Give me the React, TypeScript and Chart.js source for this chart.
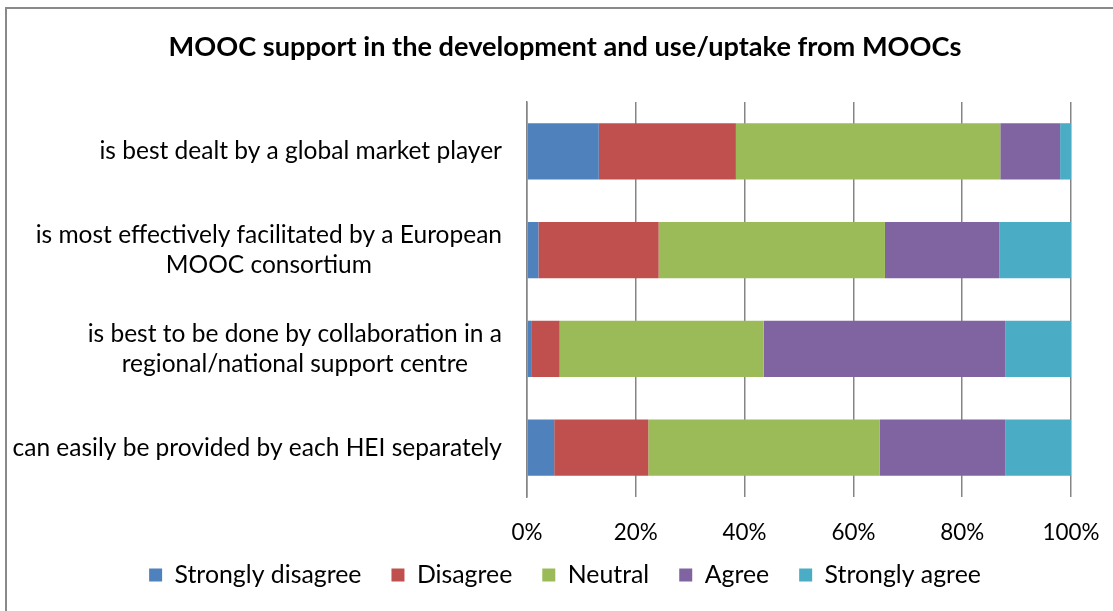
import React, { useEffect, useRef } from 'react';
import { Chart, registerables } from 'chart.js';

Chart.register(...registerables);

const titleText = 'MOOC support in the development and use/uptake from MOOCs';
const categories: string[][] = [
  ['is best dealt by a global market player'],
  ['is most effectively facilitated by a European', 'MOOC consortium'],
  ['is best to be done by collaboration in a', 'regional/national support centre'],
  ['can easily be provided by each HEI separately'],
];
const seriesNames = ['Strongly disagree', 'Disagree', 'Neutral', 'Agree', 'Strongly agree'];
const stronglyDisagree = [13.2, 2.1, 0.9, 5.0];
const disagree = [25.2, 22.1, 5.1, 17.3];
const neutral = [48.6, 41.6, 37.5, 42.5];
const agree = [11.0, 21.0, 44.4, 23.1];
const stronglyAgree = [2.0, 13.2, 12.1, 12.1];
const xTickValues = [0, 20, 40, 60, 80, 100];
const xTickLabels = ['0%', '20%', '40%', '60%', '80%', '100%'];

const seriesValues = [stronglyDisagree, disagree, neutral, agree, stronglyAgree];
const seriesColors = ['#4F81BD', '#C0504D', '#9BBB59', '#8064A2', '#4BACC6'];

const FAMILY = 'Lato';
const W = 1113;
const H = 611;

function fitSize(text: string, weight: string, target: number): number {
  const c = document.createElement('canvas').getContext('2d')!;
  c.font = `${weight} 100px ${FAMILY}`;
  return (100 * target) / c.measureText(text).width;
}

export default function App() {
  const ref = useRef<HTMLCanvasElement | null>(null);

  useEffect(() => {
    if (!ref.current) return;
    const Tf = fitSize(titleText, 'bold', 793);
    const Yf = fitSize(categories[3][0], 'normal', 490);
    const Xf = fitSize(xTickLabels[0], 'normal', 31);
    const Lf = fitSize(seriesNames[0], 'normal', 187);

    const plotLeft = 527;
    const plotRight = 1071;
    const plotTop = 102;
    const plotBottom = 497;
    const padLeft = 59;
    const legendPad = 30;
    const legendCenter = 575;
    const xAxisBottom = 556;
    const xAxisHeight = xAxisBottom - plotBottom;
    const legendHeight = Lf + legendPad + 10;
    const padBottom = H - (xAxisBottom + legendHeight);
    const legendDesiredTop = legendCenter - legendPad - Lf / 2;
    const titleCenter = 47.5;
    const titlePadTop = titleCenter - 0.6 * Tf;
    const titlePadBottom = plotTop - titlePadTop - 1.2 * Tf;
    const xLabelCenter = 533;
    const xPad = xLabelCenter - plotBottom - 0.6 * Xf;

    const yLabelPlugin = {
      id: 'yLabels',
      afterLayout(chart: any) {
        const lg = chart.legend;
        if (lg) {
          const shift = lg.top - legendDesiredTop;
          lg.top -= shift;
          lg.bottom -= shift;
        }
      },
      afterDraw(chart: any) {
        const ctx = chart.ctx;
        const yScale = chart.scales.y;
        const right = chart.chartArea.left - 25;
        const lineGap = 30.5;
        ctx.save();
        ctx.font = `normal ${Yf}px ${FAMILY}`;
        ctx.fillStyle = '#000';
        ctx.textAlign = 'center';
        ctx.textBaseline = 'middle';
        categories.forEach((lines, i) => {
          const cy = yScale.getPixelForValue(i);
          const widths = lines.map((l) => ctx.measureText(l).width);
          const bw = Math.max(...widths);
          const cx = right - bw / 2;
          const y0 = cy - ((lines.length - 1) * lineGap) / 2;
          lines.forEach((l, j) => ctx.fillText(l, cx, y0 + j * lineGap));
        });
        ctx.restore();
      },
    };

    const chart = new Chart(ref.current, {
      type: 'bar',
      data: {
        labels: categories.map((c) => c.join(' ')),
        datasets: seriesNames.map((name, i) => ({
          label: name,
          data: seriesValues[i],
          backgroundColor: seriesColors[i],
          borderWidth: 0,
          barPercentage: 0.57,
          categoryPercentage: 1,
        })),
      },
      options: {
        indexAxis: 'y',
        responsive: false,
        animation: false,
        layout: { padding: { left: padLeft, right: W - plotRight, top: 0, bottom: padBottom } },
        plugins: {
          title: {
            display: true,
            text: titleText,
            color: '#000',
            font: { family: FAMILY, size: Tf, weight: 'bold' },
            padding: { top: titlePadTop, bottom: titlePadBottom },
          },
          legend: {
            position: 'bottom',
            labels: {
              color: '#000',
              font: { family: FAMILY, size: Lf },
              boxWidth: 13,
              boxHeight: 13,
              padding: legendPad,
            },
          },
          tooltip: { enabled: false },
        },
        scales: {
          x: {
            stacked: true,
            min: 0,
            max: 100,
            afterBuildTicks: (scale: any) => {
              scale.ticks = xTickValues.map((v) => ({ value: v }));
            },
            afterFit: (scale: any) => {
              scale.height = xAxisHeight;
              scale.paddingLeft = 0;
              scale.paddingRight = 0;
            },
            ticks: {
              color: '#000',
              font: { family: FAMILY, size: Xf },
              padding: xPad,
              maxRotation: 0,
              autoSkip: false,
              callback: (_v: any, idx: number) => xTickLabels[idx],
            },
            grid: { color: '#858585', lineWidth: 1.5, drawTicks: false },
            border: { display: false },
          },
          y: {
            stacked: true,
            ticks: { display: false },
            grid: { display: false, drawTicks: false },
            border: { display: true, color: '#858585', width: 1.5 },
            afterFit: (scale: any) => {
              scale.width = plotLeft - padLeft;
            },
          },
        },
      },
      plugins: [yLabelPlugin],
    } as any);
    return () => chart.destroy();
  }, []);

  return (
    <div style={{ position: 'absolute', left: 0, top: 0, width: W, height: H, overflow: 'hidden', background: '#fff' }}>
      <canvas ref={ref} width={W} height={H} style={{ position: 'absolute', left: 0, top: 0, width: W, height: H }} />
      <div
        style={{
          position: 'absolute',
          left: 5,
          top: 7,
          width: W - 5,
          height: H - 7,
          boxSizing: 'border-box',
          borderLeft: '2px solid #898989',
          borderTop: '2px solid #898989',
          pointerEvents: 'none',
        }}
      />
    </div>
  );
}
